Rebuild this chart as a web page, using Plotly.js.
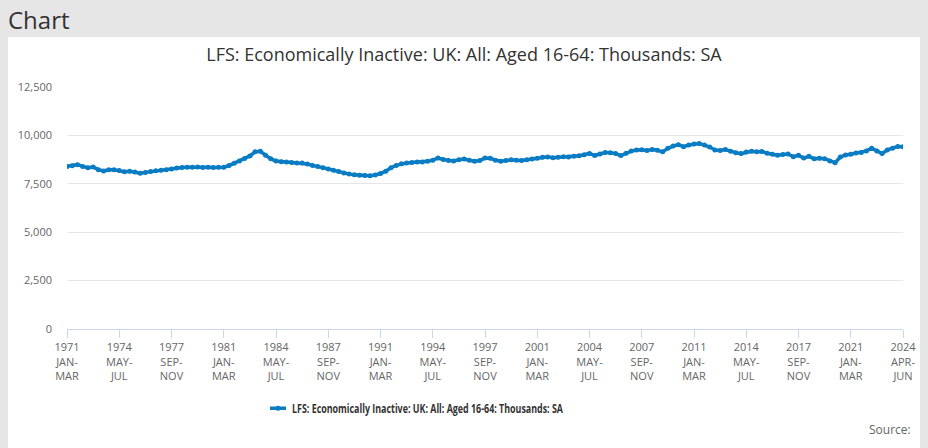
<!DOCTYPE html>
<html>
<head>
<meta charset="utf-8">
<script src="https://cdn.plot.ly/plotly-3.0.1.min.js"></script>
<style>
  html, body { margin: 0; padding: 0; background: #e6e6e6; width: 928px; height: 448px; overflow: hidden; }
  #hdr { position: absolute; left: 8px; top: 4px; font-family: "Open Sans", sans-serif; font-size: 24px; color: #333; line-height: 32px; }
  #chart { position: absolute; left: 8px; top: 37px; width: 912px; height: 411px; background: #fff; }
</style>
</head>
<body>
<div id="hdr">Chart</div>
<div id="chart"></div>
<script>
// Sampled every 4 months from 1971 JAN-MAR, plus the final period 2024 APR-JUN
const periodNames = ["JAN-MAR", "MAY-JUL", "SEP-NOV"];
const firstYear = 1971;
const finalPeriod = "2024 APR-JUN";

const inactiveThousands = [
  8400, 8430, 8490, 8400, 8330, 8370, 8230, 8160, 8220, 8230,
  8190, 8120, 8150, 8110, 8050, 8090, 8130, 8170, 8200, 8230,
  8260, 8310, 8340, 8350, 8360, 8370, 8340, 8350, 8340, 8350,
  8360, 8440, 8560, 8680, 8810, 8940, 9150, 9180, 8980, 8790,
  8680, 8640, 8620, 8600, 8580, 8570, 8520, 8450, 8400, 8330,
  8270, 8200, 8130, 8060, 8000, 7970, 7940, 7930, 7920, 7960,
  8030, 8150, 8330, 8450, 8530, 8570, 8600, 8620, 8630, 8660,
  8720, 8830, 8760, 8700, 8680, 8740, 8780, 8720, 8670, 8700,
  8830, 8820, 8720, 8670, 8700, 8740, 8720, 8700, 8740, 8780,
  8820, 8870, 8890, 8850, 8870, 8900, 8880, 8920, 8950, 9000,
  9070, 8960, 9040, 9120, 9110, 9060, 8960, 9080, 9190, 9250,
  9260, 9220, 9270, 9230, 9150, 9330, 9450, 9520, 9420, 9500,
  9560, 9580, 9500, 9400, 9250, 9220, 9270, 9180, 9110, 9060,
  9140, 9180, 9160, 9170, 9080, 9030, 8980, 9010, 9040, 8900,
  8970, 8830, 8920, 8790, 8820, 8800, 8680, 8590, 8880, 8990,
  9030, 9090, 9120, 9200, 9340, 9200, 9060, 9250, 9330, 9430,
  9420
];

const tickLabels = [
  "1971 JAN-MAR", "1974 MAY-JUL", "1977 SEP-NOV", "1981 JAN-MAR",
  "1984 MAY-JUL", "1987 SEP-NOV", "1991 JAN-MAR", "1994 MAY-JUL",
  "1997 SEP-NOV", "2001 JAN-MAR", "2004 MAY-JUL", "2007 SEP-NOV",
  "2011 JAN-MAR", "2014 MAY-JUL", "2017 SEP-NOV", "2021 JAN-MAR",
  "2024 APR-JUN"
];

const yTicks = [0, 2500, 5000, 7500, 10000, 12500];
const seriesName = "LFS: Economically Inactive: UK: All: Aged 16-64: Thousands: SA";

// category labels for each sampled period
const periods = [];
for (let k = 0; k < inactiveThousands.length - 1; k++) {
  const m = 4 * k;
  periods.push((firstYear + Math.floor(m / 12)) + " " + periodNames[k % 3]);
}
periods.push(finalPeriod);

const tickText = tickLabels.map(s => {
  const [yr, p] = s.split(" ");
  const [a, b] = p.split("-");
  return yr + "<br>" + a + "-<br>" + b;
});

const col = "#0a7cc4";
const trace = {
  type: "scatter",
  mode: "lines+markers",
  x: periods,
  y: inactiveThousands,
  name: seriesName,
  line: { color: col, width: 3.5 },
  marker: { color: col, size: 5 },
  hoverinfo: "skip"
};

const layout = {
  width: 912, height: 411,
  margin: { l: 59, r: 17, t: 50, b: 118.5 },
  paper_bgcolor: "#ffffff",
  plot_bgcolor: "#ffffff",
  font: { family: "Open Sans, sans-serif", color: "#666" },
  title: {
    text: seriesName,
    font: { family: "Open Sans, sans-serif", size: 18, color: "#333" },
    x: 0.5, xanchor: "center", xref: "container",
    y: 0.956, yanchor: "middle", yref: "container"
  },
  xaxis: {
    type: "category",
    range: [0, inactiveThousands.length - 1],
    tickmode: "array",
    tickvals: tickLabels,
    ticktext: tickText,
    tickangle: 0,
    showgrid: false,
    zeroline: false,
    showline: true,
    linecolor: "#ccd6eb",
    linewidth: 1,
    ticks: "outside",
    ticklen: 8,
    tickcolor: "#ccd6eb",
    tickfont: { size: 11, color: "#666" },
    fixedrange: true
  },
  yaxis: {
    range: [0, 12500],
    tickmode: "array",
    tickvals: yTicks,
    tickformat: ",d",
    showgrid: true,
    gridcolor: "#e6e6e6",
    zeroline: false,
    showline: false,
    ticks: "",
    ticklabelstandoff: 14,
    tickfont: { size: 11, color: "#666" },
    fixedrange: true
  },
  showlegend: true,
  legend: {
    orientation: "h",
    x: 0.2213, xanchor: "left",
    y: -0.328, yanchor: "middle",
    font: { family: "Open Sans, sans-serif", size: 13, color: "#333", weight: "bold" },
    bgcolor: "rgba(0,0,0,0)"
  },
  annotations: [{
    text: "Source:",
    xref: "paper", yref: "paper",
    x: 1.012, y: -0.415,
    xanchor: "right", yanchor: "middle",
    showarrow: false,
    font: { size: 12, color: "#666" }
  }]
};

Plotly.newPlot("chart", [trace], layout, { displayModeBar: false, staticPlot: true }).then(gd => {
  // condensed legend label, as in the reference
  gd.querySelectorAll(".legendtext").forEach(t => {
    t.setAttribute("textLength", "271");
    t.setAttribute("lengthAdjust", "spacingAndGlyphs");
  });
  // shorter legend line
  gd.querySelectorAll(".legendlines path").forEach(p => {
    p.setAttribute("d", "M18,0h16");
  });
  gd.querySelectorAll(".legendpoints path").forEach(p => {
    p.setAttribute("transform", "translate(26,0)");
  });
});
</script>
</body>
</html>
